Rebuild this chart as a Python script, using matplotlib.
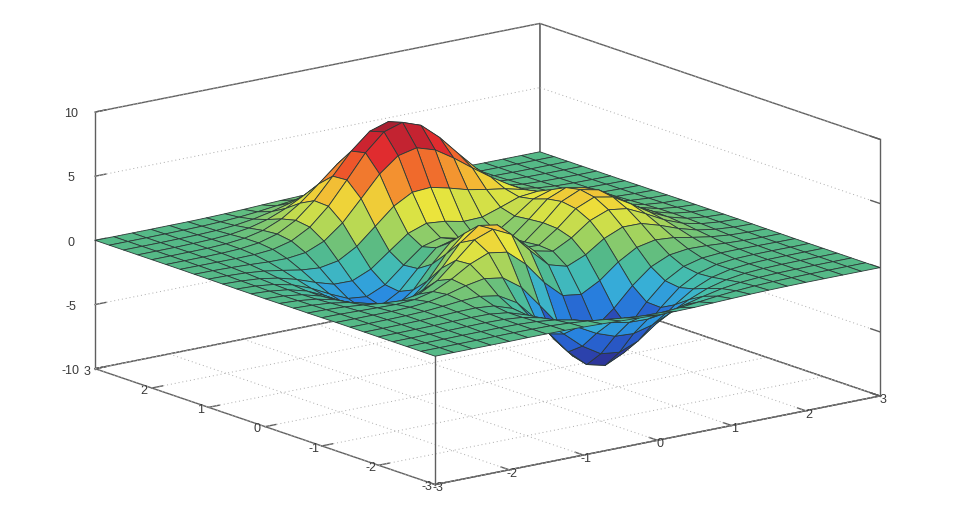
import numpy as np
import matplotlib
matplotlib.use("Agg")
import matplotlib.pyplot as plt
from matplotlib.colors import LinearSegmentedColormap
from matplotlib.transforms import Affine2D

plt.rcParams['font.family'] = ['Liberation Sans', 'DejaVu Sans']
plt.rcParams['axes.unicode_minus'] = False

x_values = [-3, -2.75, -2.5, -2.25, -2, -1.75, -1.5, -1.25, -1, -0.75, -0.5, -0.25, 0,
            0.25, 0.5, 0.75, 1, 1.25, 1.5, 1.75, 2, 2.25, 2.5, 2.75, 3]
y_values = list(x_values)

heights = [
 [0,0,0,0,0,.01,.01,0,-.03,-.07,-.13,-.19,-.24,-.24,-.22,-.16,-.11,-.06,-.03,-.01,0,0,0,0,0],
 [0,0,0,0,.01,.01,0,-.02,-.10,-.22,-.39,-.56,-.68,-.70,-.61,-.46,-.30,-.17,-.08,-.03,-.01,0,0,0,0],
 [0,0,0,.01,.01,.02,0,-.07,-.23,-.52,-.91,-1.30,-1.56,-1.60,-1.40,-1.06,-.69,-.38,-.18,-.08,-.03,-.01,0,0,0],
 [0,0,.01,.01,.03,.04,.01,-.12,-.44,-.99,-1.74,-2.51,-3.02,-3.10,-2.72,-2.05,-1.32,-.73,-.35,-.14,-.05,-.01,0,0,0],
 [0,0,.01,.02,.05,.07,.05,-.13,-.59,-1.45,-2.64,-3.88,-4.76,-4.93,-4.35,-3.27,-2.10,-1.15,-.53,-.20,-.06,-.01,0,0,0],
 [0,0,.01,.03,.07,.13,.15,.02,-.46,-1.48,-3.01,-4.70,-5.98,-6.33,-5.64,-4.24,-2.69,-1.42,-.61,-.20,-.04,0,.01,0,0],
 [0,0,.01,.03,.08,.19,.33,.39,.15,-.68,-2.19,-4.08,-5.68,-6.33,-5.76,-4.32,-2.64,-1.27,-.44,-.07,.04,.05,.03,.01,0],
 [0,-.01,-.01,-.01,.03,.17,.45,.84,1.11,.88,-.14,-1.85,-3.60,-4.60,-4.40,-3.22,-1.74,-.56,.08,.27,.23,.13,.06,.02,.01],
 [-.01,-.02,-.06,-.10,-.13,-.04,.30,.98,1.86,2.45,2.22,1.00,-.72,-2.02,-2.22,-1.43,-.27,.58,.88,.77,.50,.26,.11,.04,.01],
 [-.02,-.05,-.12,-.26,-.42,-.51,-.28,.49,1.78,3.09,3.63,2.94,1.40,0,-.41,.20,1.18,1.79,1.78,1.35,.82,.41,.18,.06,.02],
 [-.02,-.08,-.20,-.44,-.80,-1.16,-1.21,-.60,.80,2.49,3.55,3.30,2.00,.70,.39,1.14,2.20,2.76,2.56,1.88,1.12,.56,.24,.09,.03],
 [-.03,-.10,-.27,-.60,-1.14,-1.78,-2.16,-1.84,-.57,1.23,2.56,2.63,1.59,.53,.48,1.50,2.76,3.37,3.09,2.25,1.34,.67,.28,.10,.03],
 [-.04,-.11,-.30,-.69,-1.33,-2.14,-2.77,-2.71,-1.65,.06,1.48,1.75,.98,.19,.37,1.57,2.94,3.58,3.27,2.37,1.41,.70,.30,.11,.03],
 [-.03,-.11,-.29,-.67,-1.32,-2.16,-2.87,-2.98,-2.15,-.65,.68,1.06,.52,-.03,.28,1.47,2.76,3.36,3.06,2.22,1.32,.66,.28,.10,.03],
 [-.03,-.09,-.25,-.57,-1.12,-1.85,-2.49,-2.64,-2.00,-.76,.39,.80,.46,.09,.38,1.34,2.38,2.83,2.56,1.85,1.09,.54,.23,.08,.03],
 [-.02,-.07,-.18,-.42,-.81,-1.33,-1.76,-1.78,-1.16,-.05,1.04,1.55,1.42,1.12,1.17,1.65,2.17,2.32,1.99,1.40,.82,.40,.17,.06,.02],
 [-.01,-.04,-.11,-.25,-.48,-.74,-.86,-.60,.23,1.51,2.79,3.59,3.69,3.34,2.93,2.66,2.43,2.08,1.58,1.04,.58,.28,.11,.04,.01],
 [-.01,-.02,-.06,-.12,-.20,-.22,-.05,.55,1.69,3.29,4.92,6.06,6.39,5.94,5.02,3.97,2.97,2.09,1.35,.79,.41,.19,.07,.03,.01],
 [0,-.01,-.02,-.03,-.01,.11,.48,1.27,2.61,4.37,6.20,7.54,8.00,7.48,6.25,4.72,3.25,2.05,1.19,.62,.29,.12,.05,.02,0],
 [0,0,0,.01,.07,.24,.65,1.43,2.67,4.29,5.96,7.22,7.68,7.20,5.99,4.45,2.96,1.78,.96,.47,.21,.08,.03,.01,0],
 [0,0,.01,.02,.08,.23,.55,1.16,2.10,3.31,4.56,5.51,5.86,5.50,4.57,3.37,2.21,1.29,.68,.32,.13,.05,.02,0,0],
 [0,0,0,.02,.06,.15,.36,.74,1.32,2.07,2.84,3.43,3.65,3.43,2.84,2.09,1.36,.79,.41,.19,.08,.03,.01,0,0],
 [0,0,0,.01,.03,.08,.19,.39,.69,1.07,1.46,1.77,1.88,1.76,1.46,1.07,.70,.40,.20,.09,.04,.01,0,0,0],
 [0,0,0,.01,.02,.04,.09,.17,.30,.47,.64,.77,.82,.77,.64,.47,.30,.17,.09,.04,.02,.01,0,0,0],
 [0,0,0,0,.01,.01,.03,.06,.11,.17,.23,.27,.29,.27,.23,.17,.11,.06,.03,.01,.01,0,0,0,0],
]

xy_ticks = [-3, -2, -1, 0, 1, 2, 3]
z_ticks = [-10, -5, 0, 5, 10]
z_floor, z_top = -10, 10
xy_low, xy_high = -3, 3
colour_low, colour_high = -6.55, 8.1

stops = [(0.00, (45, 40, 130)), (0.10, (45, 60, 165)), (0.20, (40, 95, 205)),
         (0.27, (40, 135, 225)), (0.34, (55, 175, 215)), (0.39, (70, 190, 170)),
         (0.447, (85, 185, 135)), (0.53, (160, 210, 95)), (0.62, (235, 230, 60)),
         (0.72, (245, 170, 50)), (0.81, (238, 80, 42)), (0.88, (222, 38, 48)),
         (1.00, (150, 30, 50))]
cmap = LinearSegmentedColormap.from_list(
    "surface", [(p, tuple(c / 255 for c in rgb)) for p, rgb in stops])

X, Y = np.meshgrid(x_values, y_values)
Z = np.array(heights)

fig = plt.figure(figsize=(9.74, 5.18), dpi=100, facecolor='white')
ax = fig.add_axes([-6.5 / 974, -2 / 518, 1, 1], projection='3d', computed_zorder=False)
ax.set_proj_type('ortho')
ax.view_init(elev=15.1, azim=-127.4)
ax.set_box_aspect((560, 560, 266), zoom=1.565)
ax.set_xlim(xy_low, xy_high)
ax.set_ylim(xy_low, xy_high)
ax.set_zlim(z_floor, z_top)
ax.grid(False)

axis_grey = '#5f5f5f'
grid_grey = '#ababab'
dotted = (0, (1, 3))
for axis in (ax.xaxis, ax.yaxis, ax.zaxis):
    axis.set_pane_color((1, 1, 1, 1))
    axis.pane.set_edgecolor(axis_grey)
    axis.pane.set_linewidth(1.0)
    axis.line.set_color(axis_grey)
    axis.line.set_linewidth(1.0)
    axis._axinfo['tick'].update(inward_factor=0.0, outward_factor=0.3)
    axis._axinfo['tick']['linewidth'] = {True: 1.0, False: 0.5}
    axis._axinfo['tick']['color'] = axis_grey

ax.set_xticks(xy_ticks)
ax.set_yticks(xy_ticks)
ax.set_zticks(z_ticks)
ax.tick_params(axis='both', labelsize=9, labelcolor='#3a3a3a', color=axis_grey)
ax.tick_params(axis='x', pad=-7)
ax.tick_params(axis='y', pad=-5)
ax.tick_params(axis='z', pad=-2)


def shift_tick_labels(axis, dx, dy):
    original = axis.get_major_ticks

    def shifted(numticks=None):
        ticks = original(numticks)
        for tick in ticks:
            tick.label1.set_transform(ax.transData + Affine2D().translate(dx, dy))
        return ticks

    axis.get_major_ticks = shifted


shift_tick_labels(ax.xaxis, 1, 4)
shift_tick_labels(ax.yaxis, -1, 8.5)
shift_tick_labels(ax.zaxis, 0, 3)

lines = []
for t in xy_ticks:
    lines += ax.plot([t, t], [xy_low, xy_high], [z_floor, z_floor], color=grid_grey, lw=0.7, ls=dotted, zorder=0.5)
    lines += ax.plot([xy_low, xy_high], [t, t], [z_floor, z_floor], color=grid_grey, lw=0.7, ls=dotted, zorder=0.5)
for t in z_ticks:
    lines += ax.plot([xy_low, xy_high], [xy_high, xy_high], [t, t], color=grid_grey, lw=0.7, ls=dotted, zorder=0.5)
    lines += ax.plot([xy_high, xy_high], [xy_low, xy_high], [t, t], color=grid_grey, lw=0.7, ls=dotted, zorder=0.5)
    lines += ax.plot([xy_high, xy_high], [xy_low, xy_low + 0.16], [t, t], color=axis_grey, lw=1.0, zorder=0.6)

lines += ax.plot([xy_low, xy_low], [xy_low, xy_low], [z_floor, 0], color=axis_grey, lw=1.0, zorder=1)
lines += ax.plot([xy_high, xy_high], [xy_low, xy_low], [z_floor, z_top], color=axis_grey, lw=1.0, zorder=1)
surface = ax.plot_surface(X, Y, Z, rstride=1, cstride=1, cmap=cmap, vmin=colour_low, vmax=colour_high,
                          edgecolor='#2c3a38', linewidth=0.6, shade=False, antialiased=True, zorder=2)
surface.set_clip_on(False)
for line in lines:
    line.set_clip_on(False)

fig.savefig("out.png", dpi=100)
